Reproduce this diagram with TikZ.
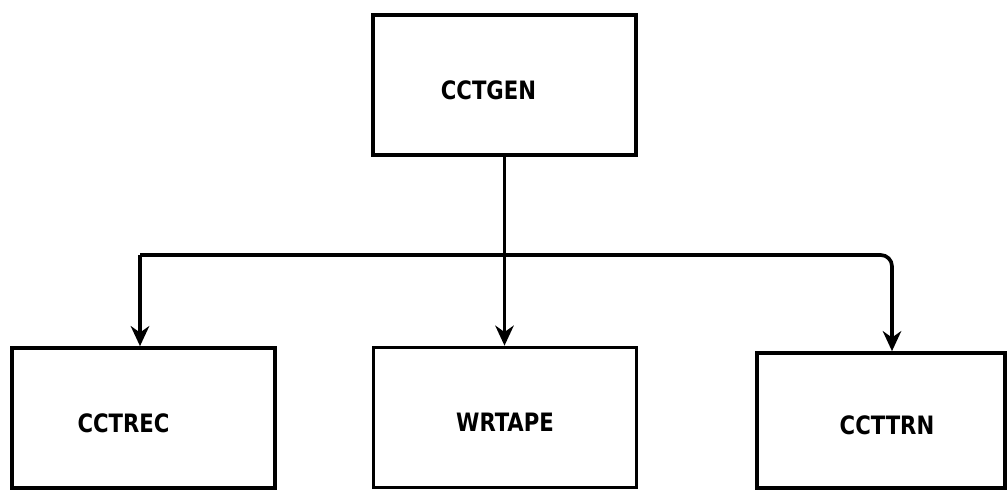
\documentclass[tikz,border=0pt]{standalone}
\usepackage{fontspec}
\setmainfont{DejaVu Sans Condensed}[FakeStretch=0.93]
\usetikzlibrary{arrows.meta}

\begin{document}
\begin{tikzpicture}[x=0.025cm,y=-0.025cm,
  modbox/.style={draw,line width=2.6pt,minimum width=6.575cm,minimum height=3.5cm,
    inner sep=0pt,font=\fontsize{18}{20}\selectfont\bfseries},
  wire/.style={line width=2.6pt},
  call/.style={wire,-{Stealth[length=0.5cm,width=0.46cm,inset=0.16cm]}}]
\useasboundingbox (0,0) rectangle (1008,490);
\node[modbox] (gen) at (504.5,85) {\raisebox{-10pt}[0pt][0pt]{CCTGEN\hspace*{0.8cm}}};
\node[modbox] (rec) at (143.5,418) {\raisebox{-10pt}[0pt][0pt]{CCTREC\hspace*{1cm}}};
\node[modbox] (wrt) at (505,417.5) {\raisebox{-10pt}[0pt][0pt]{WRTAPE}};
\node[modbox,minimum width=6.2cm,minimum height=3.375cm] (trn) at (881,420.5) {\raisebox{-10pt}[0pt][0pt]{\hspace*{0.3cm}CCTTRN}};
\coordinate (busL) at (140,255);
\coordinate (busR) at (892,255);
\draw[call] (gen.south) -- (gen.south |- wrt.north);
\draw[call] (busL) -- (busL |- rec.north);
\draw[call,rounded corners=8pt] (busL) -- (busR) -- (busR |- trn.north);
\end{tikzpicture}
\end{document}
